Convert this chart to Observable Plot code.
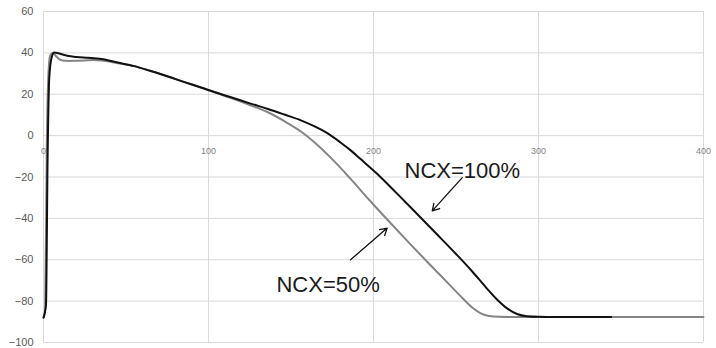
<!DOCTYPE html>
<html>
<head>
<meta charset="utf-8">
<script src="https://cdn.jsdelivr.net/npm/d3@7"></script>
<script src="https://cdn.jsdelivr.net/npm/@observablehq/plot@0.6"></script>
<style>
  html, body { margin: 0; padding: 0; background: #fff; }
  #chart svg { display: block; }
</style>
</head>
<body>
<div id="chart"></div>
<script>
const xTicks = [0, 100, 200, 300, 400];
const yTicks = [-100, -80, -60, -40, -20, 0, 20, 40, 60];

// NCX = 100% (black)
const blackX = [0, 1.5, 2.5, 3.5, 5, 6.5, 9, 14.4, 20, 27, 35, 45, 55, 65, 75, 85, 95, 105, 115, 125, 136, 146, 156, 164, 172, 180, 186, 192, 202, 214, 226, 238, 250, 260, 268, 275, 281, 287, 293, 300, 310, 344];
const blackY = [-88, -82, -10, 28, 38, 40.2, 39.8, 38.6, 38, 37.6, 37, 35.3, 33.6, 31.2, 28.7, 26, 23.4, 20.7, 18.2, 15.6, 12.9, 10.2, 7.4, 4.6, 1.2, -3.3, -7.0, -11.2, -18.3, -27.8, -37.5, -47.3, -57.2, -65.8, -73.2, -79.3, -83.5, -86.2, -87.3, -87.6, -87.7, -87.7];

// NCX = 50% (gray)
const grayX = [0, 1, 2, 3, 4, 5.5, 7.5, 9.5, 11.5, 15, 20, 25, 30, 35, 45, 55, 65, 75, 85, 95, 105, 115, 125, 136, 146, 156, 166, 176, 186, 198, 210, 222, 234, 246, 254, 260, 265, 270, 276, 285, 300, 400];
const grayY = [-88, -84, -5, 30, 38.5, 40, 38.5, 37, 36.3, 36.1, 36.2, 36.3, 36.5, 36.3, 35, 33.6, 31.2, 28.7, 26, 23.4, 20.6, 17.8, 14.8, 11.3, 7.0, 2.0, -4.5, -12.2, -20.8, -31.6, -42.0, -52.2, -62.2, -72.0, -78.6, -83.2, -85.9, -87.2, -87.6, -87.7, -87.7, -87.7];

const labels = ["NCX=100%", "NCX=50%"];
const labelX = [218.8, 141.2];
const labelY = [-18.7, -73.6];
const arrowFromX = [253.8, 186.1];
const arrowFromY = [-20.3, -60];
const arrowToX = [235.6, 208.3];
const arrowToY = [-36.4, -44.7];

const black = blackX.map((x, i) => ({x, y: blackY[i]}));
const gray = grayX.map((x, i) => ({x, y: grayY[i]}));
const notes = labels.map((t, i) => ({t, x: labelX[i], y: labelY[i]}));
const arrows = labels.map((t, i) => ({x1: arrowFromX[i], y1: arrowFromY[i], x2: arrowToX[i], y2: arrowToY[i]}));

const chart = Plot.plot({
  width: 716,
  height: 348,
  marginLeft: 43,
  marginRight: 13,
  marginTop: 11,
  marginBottom: 6,
  style: {fontFamily: "Liberation Sans, Arial, sans-serif", background: "#fff"},
  x: {domain: [0, 400], axis: null},
  y: {domain: [-100, 60], axis: null},
  marks: [
    Plot.gridY(yTicks, {stroke: "#d9d9d9", strokeOpacity: 1, strokeWidth: 1}),
    Plot.gridX(xTicks, {stroke: "#d9d9d9", strokeOpacity: 1, strokeWidth: 1}),
    Plot.axisY(yTicks, {tickSize: 0, tickPadding: 10, fontSize: 11, fill: "#595959", label: null}),
    Plot.text(xTicks, {x: d => d, y: 0, dy: 15, text: d => String(d), fontSize: 9, fill: "#7f7f7f"}),
    Plot.line(gray, {x: "x", y: "y", stroke: "#858585", strokeWidth: 2, curve: "monotone-x"}),
    Plot.line(black, {x: "x", y: "y", stroke: "#111111", strokeWidth: 2, curve: "monotone-x"}),
    Plot.arrow(arrows, {x1: "x1", y1: "y1", x2: "x2", y2: "y2", stroke: "#111", strokeWidth: 1.3, headLength: 9, bend: 0}),
    Plot.text(notes, {x: "x", y: "y", text: "t", textAnchor: "start", lineAnchor: "bottom", fontSize: 22, fill: "#1a1a1a", dy: 4})
  ]
});
document.getElementById("chart").appendChild(chart);
</script>
</body>
</html>
